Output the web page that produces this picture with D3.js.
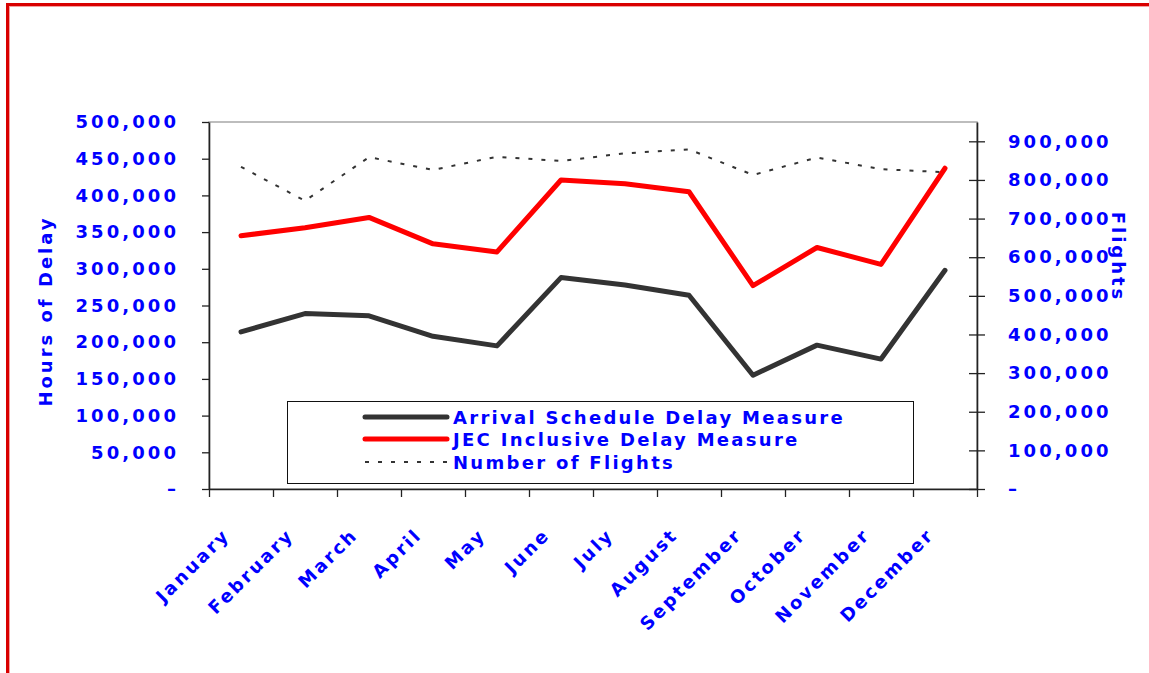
<!DOCTYPE html>
<html>
<head>
<meta charset="utf-8">
<script src="https://cdn.jsdelivr.net/npm/d3@7"></script>
<style>
  html, body { margin: 0; padding: 0; background: #fff; }
  svg { display: block; }
  .lbl { font-family: "DejaVu Sans", Verdana, sans-serif; font-weight: bold; fill: #0000ff; font-size: 18px; letter-spacing: 2.6px; }
  .tickLbl { letter-spacing: 3.1px; }
  .title { letter-spacing: 3px; }
  .legendLbl { letter-spacing: 2.3px; }
</style>
</head>
<body>
<div id="chart"></div>
<script>
const months = ['January', 'February', 'March', 'April', 'May', 'June',
  'July', 'August', 'September', 'October', 'November', 'December'];
const arrivalDelay = [214000, 239000, 236000, 208000, 195000, 288000, 278000, 264000, 155000, 196000, 177000, 298000];
const jecDelay = [345000, 356000, 370000, 334000, 323000, 421000, 416000, 405000, 277000, 329000, 306000, 437000];
const flights = [834000, 746000, 859000, 826000, 860000, 849000, 869000, 879000, 813000, 858000, 828000, 820000];
const leftTicks = [0, 50000, 100000, 150000, 200000, 250000, 300000, 350000, 400000, 450000, 500000];
const rightTicks = [0, 100000, 200000, 300000, 400000, 500000, 600000, 700000, 800000, 900000];
const legendNames = ['Arrival Schedule Delay Measure', 'JEC Inclusive Delay Measure', 'Number of Flights'];

const width = 1149, height = 673;
const plot = { left: 209, right: 977, top: 122, bottom: 489 };

const svg = d3.select('#chart').append('svg')
  .attr('width', width)
  .attr('height', height);

// red page frame (left and top edges only)
svg.append('line').attr('x1', 7.5).attr('x2', 7.5).attr('y1', 3).attr('y2', height)
  .attr('stroke', '#d90000').attr('stroke-width', 3);
svg.append('line').attr('x1', 6).attr('x2', width).attr('y1', 4.5).attr('y2', 4.5)
  .attr('stroke', '#d90000').attr('stroke-width', 3);
svg.append('line').attr('x1', 9.5).attr('x2', 9.5).attr('y1', 6).attr('y2', height)
  .attr('stroke', '#f4a0a0').attr('stroke-width', 1);
svg.append('line').attr('x1', 9).attr('x2', width).attr('y1', 6.5).attr('y2', 6.5)
  .attr('stroke', '#f4a0a0').attr('stroke-width', 1);

const x = d3.scaleBand().domain(months).range([plot.left, plot.right]);
const xEdge = d3.scaleLinear().domain([0, months.length]).range([plot.left, plot.right]);
const yL = d3.scaleLinear().domain([0, 500000]).range([plot.bottom, plot.top]);
const yR = d3.scaleLinear().domain([0, 950000]).range([plot.bottom, plot.top]);

const fmt = v => v === 0 ? '–' : d3.format(',')(v);

// plot area border
svg.append('rect')
  .attr('x', plot.left).attr('y', plot.top)
  .attr('width', plot.right - plot.left).attr('height', plot.bottom - plot.top)
  .attr('fill', 'none').attr('stroke', '#a8a8a8').attr('stroke-width', 1.5);

// left axis
const gL = svg.append('g')
  .attr('transform', `translate(${plot.left},0)`)
  .call(d3.axisLeft(yL).tickValues(leftTicks).tickFormat(fmt).tickSize(7).tickSizeOuter(0).tickPadding(26));

// right axis
const gR = svg.append('g')
  .attr('transform', `translate(${plot.right},0)`)
  .call(d3.axisRight(yR).tickValues(rightTicks).tickFormat(fmt).tickSize(8).tickSizeOuter(0).tickPadding(23));
gR.selectAll('.tick line').attr('x1', -8);

// bottom axis, ticks on category boundaries
const gB = svg.append('g')
  .attr('transform', `translate(0,${plot.bottom})`)
  .call(d3.axisBottom(xEdge).tickValues(d3.range(months.length + 1)).tickFormat('').tickSize(8).tickSizeOuter(0));

[gL, gR, gB].forEach(g => {
  g.select('.domain').attr('stroke', '#222').attr('stroke-width', 1.6);
  g.selectAll('.tick line').attr('stroke', '#222').attr('stroke-width', 1.3);
  g.selectAll('.tick text').attr('class', 'lbl tickLbl').attr('fill', null).style('font-size', null);
});
gL.selectAll('.tick text').attr('dx', 3.1);

// month labels
svg.append('g').selectAll('text')
  .data(months)
  .join('text')
  .attr('class', 'lbl')
  .attr('text-anchor', 'end')
  .attr('transform', d => `translate(${x(d) + x.bandwidth() / 2 - 10},${plot.bottom + 47}) rotate(-45)`)
  .text(d => d);

// axis titles
svg.append('text')
  .attr('class', 'lbl title')
  .attr('text-anchor', 'middle')
  .attr('transform', 'translate(52,311) rotate(-90)')
  .text('Hours of Delay');

svg.append('text')
  .attr('class', 'lbl title')
  .attr('text-anchor', 'middle')
  .attr('transform', 'translate(1112,257) rotate(90)')
  .text('Flights');

// series lines
const lineL = d3.line().x((d, i) => x(months[i]) + x.bandwidth() / 2).y(d => yL(d));
const lineR = d3.line().x((d, i) => x(months[i]) + x.bandwidth() / 2).y(d => yR(d));

svg.append('path').datum(flights)
  .attr('d', lineR)
  .attr('fill', 'none').attr('stroke', '#333').attr('stroke-width', 2)
  .attr('stroke-dasharray', '4,9');

svg.append('path').datum(jecDelay)
  .attr('d', lineL)
  .attr('fill', 'none').attr('stroke', '#ff0000').attr('stroke-width', 5)
  .attr('stroke-linejoin', 'round').attr('stroke-linecap', 'round');

svg.append('path').datum(arrivalDelay)
  .attr('d', lineL)
  .attr('fill', 'none').attr('stroke', '#333').attr('stroke-width', 5)
  .attr('stroke-linejoin', 'round').attr('stroke-linecap', 'round');

// legend
const legend = svg.append('g');
legend.append('rect')
  .attr('x', 287.5).attr('y', 401.5).attr('width', 626).attr('height', 82)
  .attr('fill', '#fff').attr('stroke', '#111').attr('stroke-width', 1);

const legendStyles = [
  { color: '#333', width: 5, dash: null },
  { color: '#ff0000', width: 5, dash: null },
  { color: '#333', width: 2, dash: '4,9' }
];
const legendY = [417, 439, 462];

legendNames.forEach((name, i) => {
  const s = legendStyles[i];
  legend.append('line')
    .attr('x1', 365).attr('x2', 447)
    .attr('y1', legendY[i]).attr('y2', legendY[i])
    .attr('stroke', s.color).attr('stroke-width', s.width)
    .attr('stroke-linecap', s.dash ? 'butt' : 'round')
    .attr('stroke-dasharray', s.dash);
  legend.append('text')
    .attr('class', 'lbl legendLbl')
    .attr('x', 453).attr('y', legendY[i] + 7)
    .text(name);
});
</script>
</body>
</html>
